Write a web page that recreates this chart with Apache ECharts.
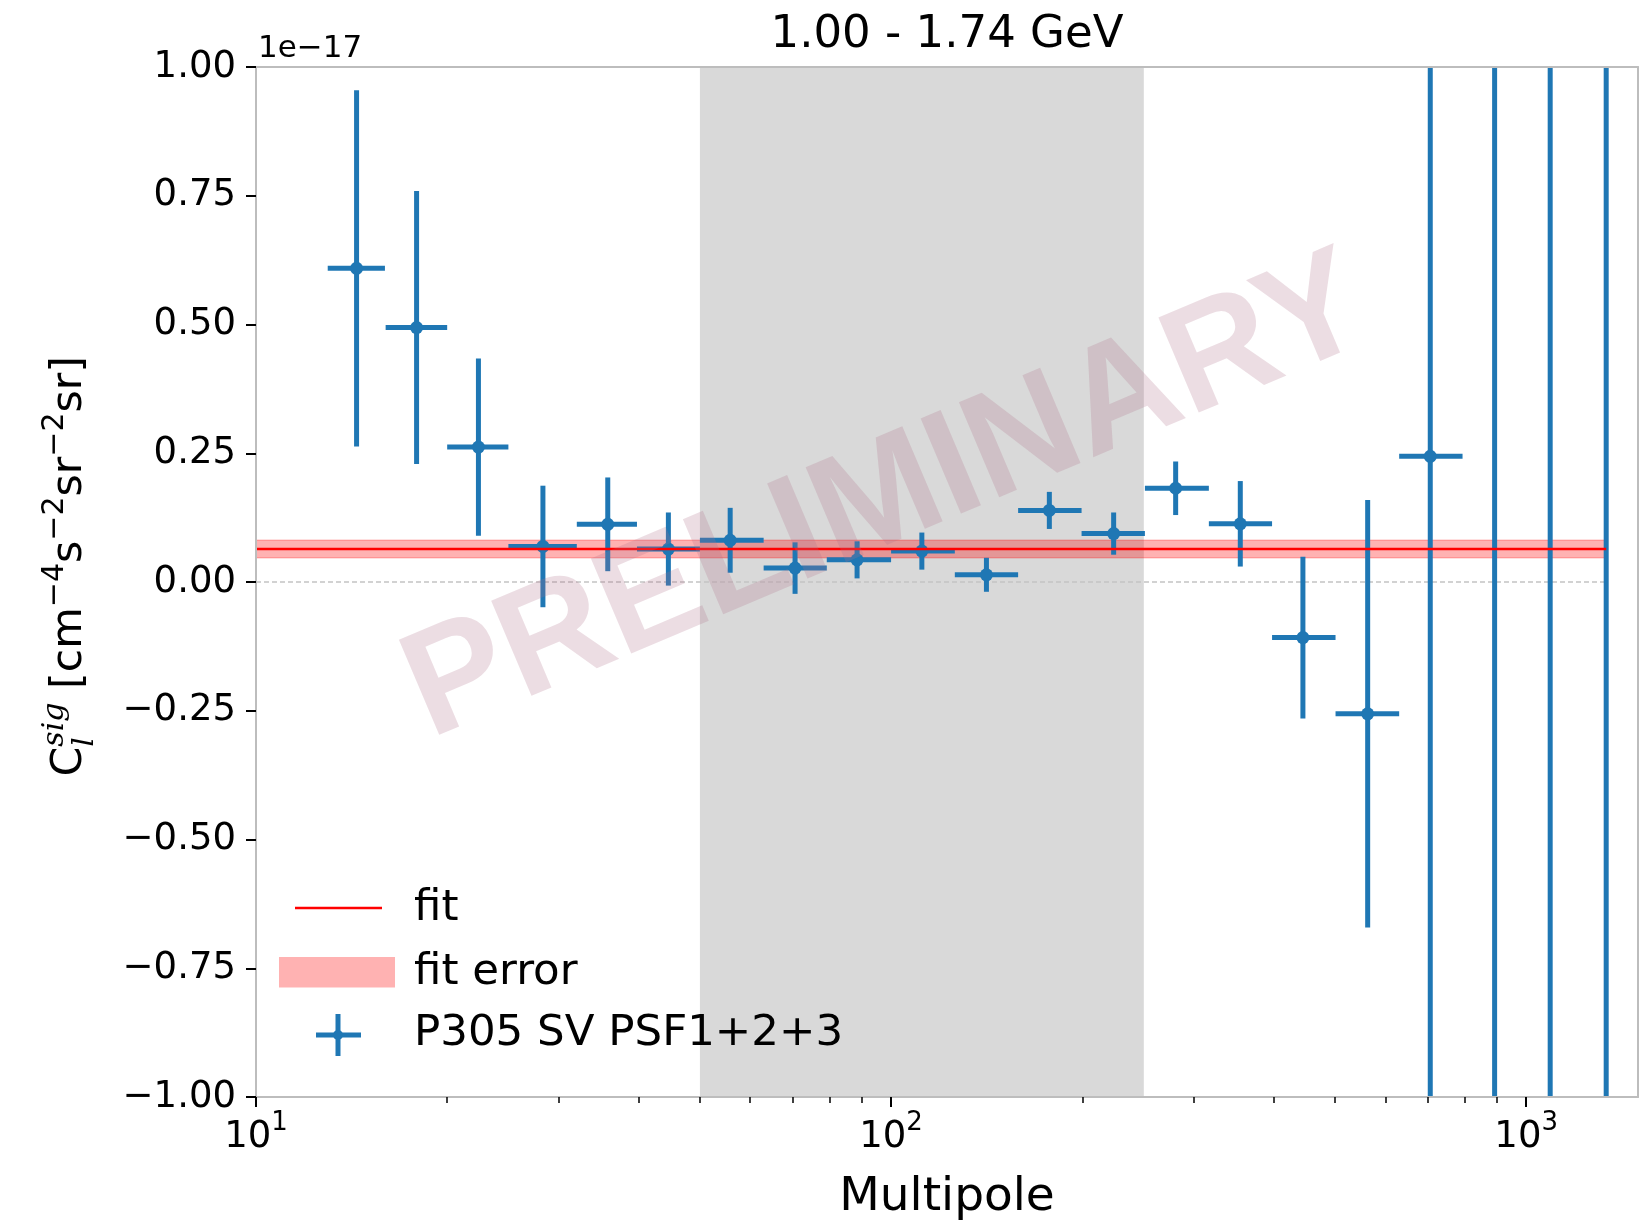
<!DOCTYPE html>
<html>
<head>
<meta charset="utf-8">
<script src="https://cdn.jsdelivr.net/npm/echarts@6/dist/echarts.min.js"></script>
<style>
  html, body { margin: 0; padding: 0; background: #fff; }
  #chart { width: 1641px; height: 1221px; }
</style>
</head>
<body>
<div id="chart"></div>
<script>
// ---- data (C_l in units of 1e-17 cm^-4 s^-2 sr^-2 sr) ----
const ell    = [14.4, 17.9, 22.4, 28.3, 35.8, 44.6, 55.8, 70.6, 88.4, 111.8, 141.3, 177.5, 224.1, 280.6, 354.7, 445.1, 562.9, 706.3, 891.9, 1091, 1336.6];
const ellLo  = [12.97, 16.0, 20.0, 24.97, 32.0, 39.8, 50.0, 63.0, 79.2, 100, 126, 158.5, 199.5, 251, 316.5, 398, 501, 631, 794, 1000, 1200];
const ellHi  = [15.96, 20.0, 24.97, 32.0, 39.8, 50.0, 63.0, 79.2, 100, 126, 158.5, 199.5, 251, 316.5, 398, 501, 631, 794, 1000, 1200, 1500];
const clSig  = [0.609, 0.494, 0.262, 0.069, 0.112, 0.064, 0.081, 0.027, 0.043, 0.060, 0.014, 0.139, 0.094, 0.182, 0.113, -0.108, -0.256, 0.244, 1.35, -1.25, 1.60];
const clErr  = [0.346, 0.265, 0.172, 0.118, 0.091, 0.071, 0.063, 0.050, 0.036, 0.036, 0.033, 0.036, 0.041, 0.052, 0.083, 0.157, 0.415, 1.90, 2.90, 3.40, 4.80];

const fitValue = 0.064;
const fitError = 0.017;
const maskedRange = [50, 250];

const xMin = 10, xMax = 1500;
const yMin = -1, yMax = 1, yStep = 0.25;
const majorTicks = [10, 100, 1000];
const minorTicks = [20, 30, 40, 50, 60, 70, 80, 90, 200, 300, 400, 500, 600, 700, 800, 900];

const titleText = '1.00 - 1.74 GeV';
const offsetText = '1e\u221217';
const legendLabels = ['fit', 'fit error', 'P305 SV PSF1+2+3'];

// ---- styles ----
const BLUE = '#1f77b4';
const FONT = '"DejaVu Sans"';
const SPINE = '#bdbdbd';
const xEnd = ell[ell.length - 1];

const errData = ell.map((x, i) => [x, clSig[i], ellLo[i], ellHi[i], clErr[i]]);

function clampY(py, cs) { return Math.max(cs.y, Math.min(cs.y + cs.height, py)); }

function renderErrorBar(params, api) {
  const cs = params.coordSys;
  const x = api.value(0), y = api.value(1), lo = api.value(2), hi = api.value(3), e = api.value(4);
  const c = api.coord([x, y]);
  const t = api.coord([x, y + e]);
  const b = api.coord([x, y - e]);
  const children = [{
    type: 'line',
    shape: { x1: c[0], y1: clampY(t[1], cs), x2: c[0], y2: clampY(b[1], cs) },
    style: { stroke: BLUE, lineWidth: 5 }
  }];
  if (y >= yMin && y <= yMax) {
    const l = api.coord([lo, y]), r = api.coord([hi, y]);
    children.push({ type: 'line', shape: { x1: l[0], y1: c[1], x2: r[0], y2: c[1] }, style: { stroke: BLUE, lineWidth: 5 } });
    children.push({ type: 'circle', shape: { cx: c[0], cy: c[1], r: 6.5 }, style: { fill: BLUE } });
  }
  return { type: 'group', children };
}

function renderMask(params, api) {
  const a = api.coord([api.value(0), yMax]);
  const b = api.coord([api.value(1), yMin]);
  return { type: 'rect', shape: { x: a[0], y: a[1], width: b[0] - a[0], height: b[1] - a[1] }, style: { fill: '#d9d9d9' } };
}

function renderFitBand(params, api) {
  const a = api.coord([api.value(0), api.value(3)]);
  const b = api.coord([api.value(1), api.value(2)]);
  return {
    type: 'rect',
    shape: { x: a[0], y: a[1], width: b[0] - a[0], height: b[1] - a[1] },
    style: { fill: 'rgba(255,0,0,0.3)', stroke: 'rgba(255,0,0,0.25)', lineWidth: 1.5 }
  };
}

// ---- y-axis title built from pieces (superscripts / subscripts) ----
const measureCtx = document.createElement('canvas').getContext('2d');
function textW(t, font) { measureCtx.font = font; return measureCtx.measureText(t).width; }

const F = 42.7, FS = 30;
const mainFont = F + 'px ' + FONT;
const supFont = FS + 'px ' + FONT;
const mathFont = 'italic ' + FS + 'px "DejaVu Serif"';
const supShift = 0.45 * F, subShift = -0.24 * F;

const yLabelPieces = [];
let cursor = 0;
function addPiece(text, font, size, shift, advance) {
  yLabelPieces.push({ text, font, size, shift, lx: cursor });
  if (advance !== false) cursor += textW(text, font);
}
addPiece('C', mainFont, F, 0);
const sigStart = cursor;
addPiece('sig', mathFont, FS, supShift, false);
yLabelPieces.push({ text: 'l', font: mathFont, size: FS, shift: subShift, lx: sigStart });
cursor += Math.max(textW('sig', mathFont), textW('l', mathFont));
addPiece(' [cm', mainFont, F, 0);
addPiece('\u22124', supFont, FS, supShift);
addPiece('s', mainFont, F, 0);
addPiece('\u22122', supFont, FS, supShift);
addPiece('sr', mainFont, F, 0);
addPiece('\u22122', supFont, FS, supShift);
addPiece('sr]', mainFont, F, 0);

const yLabelGroup = {
  type: 'group',
  x: 85, y: 776.5,
  rotation: Math.PI / 2,
  children: yLabelPieces.map(p => ({
    type: 'text',
    x: p.lx,
    y: -p.shift - 0.346 * p.size,
    style: { text: p.text, font: p.font, fill: '#000', align: 'left', verticalAlign: 'middle' }
  }))
};

// ---- legend drawn as graphic ----
const legendFont = '43.5px ' + FONT;
const legendElems = [
  { type: 'line', z: 50, shape: { x1: 295, y1: 908, x2: 382, y2: 908 }, style: { stroke: '#ff0000', lineWidth: 2.5 } },
  { type: 'rect', z: 50, shape: { x: 279, y: 957, width: 116, height: 30.5 }, style: { fill: 'rgba(255,0,0,0.3)' } },
  { type: 'line', z: 50, shape: { x1: 316, y1: 1035, x2: 361, y2: 1035 }, style: { stroke: BLUE, lineWidth: 5 } },
  { type: 'line', z: 50, shape: { x1: 338, y1: 1014, x2: 338, y2: 1056 }, style: { stroke: BLUE, lineWidth: 5 } },
  { type: 'circle', z: 50, shape: { cx: 338, cy: 1035, r: 5 }, style: { fill: BLUE } },
  { type: 'text', z: 50, x: 414, y: 909, style: { text: legendLabels[0], font: legendFont, fill: '#000', align: 'left', verticalAlign: 'middle' } },
  { type: 'text', z: 50, x: 414, y: 972.5, style: { text: legendLabels[1], font: legendFont, fill: '#000', align: 'left', verticalAlign: 'middle' } },
  { type: 'text', z: 50, x: 414, y: 1034, style: { text: legendLabels[2], font: legendFont, fill: '#000', align: 'left', verticalAlign: 'middle' } }
];

const option = {
  animation: false,
  backgroundColor: '#ffffff',
  textStyle: { fontFamily: FONT },
  grid: { left: 256, right: 3, top: 67, bottom: 124, containLabel: false, outerBoundsMode: 'none' },
  xAxis: [
    {
      type: 'log', logBase: 10, min: xMin, max: xMax, position: 'bottom', z: 10,
      name: 'Multipole', nameLocation: 'middle', nameGap: 77,
      nameTextStyle: { fontSize: 47, color: '#000', fontFamily: FONT },
      axisLine: { show: true, onZero: false, lineStyle: { color: SPINE, width: 2 } },
      axisTick: { show: true, inside: false, length: 10, customValues: majorTicks, lineStyle: { color: '#000', width: 2 } },
      axisLabel: {
        margin: 13,
        customValues: majorTicks,
        formatter: v => '{b|10}{s|' + Math.round(Math.log10(v)) + '}',
        rich: {
          b: { fontSize: 37, lineHeight: 46, verticalAlign: 'bottom', color: '#000', fontFamily: FONT },
          s: { fontSize: 26, lineHeight: 18, verticalAlign: 'top', color: '#000', fontFamily: FONT }
        }
      },
      splitLine: { show: false }, minorTick: { show: false }
    },
    {
      type: 'log', logBase: 10, min: xMin, max: xMax, position: 'bottom', z: 10,
      axisLine: { show: false, onZero: false },
      axisTick: { show: true, inside: false, length: 6, customValues: minorTicks, lineStyle: { color: '#000', width: 1.5 } },
      axisLabel: { show: false },
      splitLine: { show: false }
    },
    {
      type: 'value', min: 0, max: 1, position: 'top', z: 10,
      axisLine: { show: true, onZero: false, lineStyle: { color: SPINE, width: 2 } },
      axisTick: { show: false }, axisLabel: { show: false }, splitLine: { show: false }
    }
  ],
  yAxis: [
    {
      type: 'value', min: yMin, max: yMax, interval: yStep, position: 'left', z: 10,
      axisLine: { show: true, onZero: false, lineStyle: { color: SPINE, width: 2 } },
      axisTick: { show: true, inside: false, length: 10, lineStyle: { color: '#000', width: 2 } },
      axisLabel: {
        margin: 20, fontSize: 37, color: '#000', fontFamily: FONT,
        formatter: v => { const s = Math.abs(v).toFixed(2); return v < -1e-9 ? '\u2212' + s : s; }
      },
      splitLine: { show: false }
    },
    {
      type: 'value', min: 0, max: 1, position: 'right', z: 10,
      axisLine: { show: true, onZero: false, lineStyle: { color: SPINE, width: 2 } },
      axisTick: { show: false }, axisLabel: { show: false }, splitLine: { show: false }
    }
  ],
  series: [
    {
      name: 'masked', type: 'custom', z: 1, silent: true,
      renderItem: renderMask, data: [maskedRange]
    },
    {
      name: 'zero', type: 'line', z: 2, silent: true, showSymbol: false, symbol: 'none',
      lineStyle: { color: '#c4c4c4', width: 1.3, type: [5, 3] },
      data: [[xMin, 0], [xEnd, 0]]
    },
    {
      name: 'fit error', type: 'custom', z: 3, silent: true,
      renderItem: renderFitBand, data: [[xMin, xEnd, fitValue - fitError, fitValue + fitError]]
    },
    {
      name: 'P305 SV PSF1+2+3', type: 'custom', z: 4, clip: true,
      renderItem: renderErrorBar, data: errData
    },
    {
      name: 'fit', type: 'line', z: 5, silent: true, showSymbol: false, symbol: 'none',
      lineStyle: { color: '#ff0000', width: 2.5 },
      data: [[xMin, fitValue], [xEnd, fitValue]]
    }
  ],
  graphic: [
    { type: 'text', x: 947, y: 35.5, style: { text: titleText, font: '45px ' + FONT, fill: '#000', align: 'center', verticalAlign: 'middle' } },
    { type: 'text', x: 258, y: 49, style: { text: offsetText, font: '31px ' + FONT, fill: '#000', align: 'left', verticalAlign: 'middle' } },
    yLabelGroup,
    ...legendElems,
    {
      type: 'text', x: 887, y: 500, rotation: 23 * Math.PI / 180, z: 100, silent: true,
      style: { text: 'PRELIMINARY', font: 'bold 150px "Liberation Sans"', fill: 'rgba(176,113,138,0.24)', align: 'center', verticalAlign: 'middle' }
    }
  ]
};

const chart = echarts.init(document.getElementById('chart'));
chart.setOption(option);
</script>
</body>
</html>
